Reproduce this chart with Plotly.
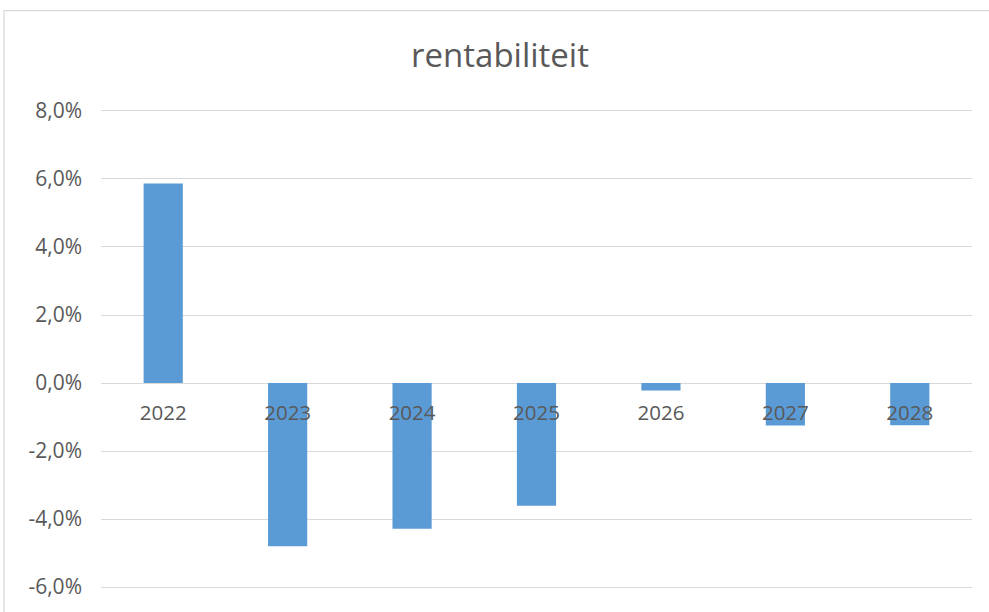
import plotly.graph_objects as go

years = ["2022", "2023", "2024", "2025", "2026", "2027", "2028"]
rentabiliteit = [0.0587, -0.0480, -0.0429, -0.0361, -0.0022, -0.0125, -0.0124]
y_ticks = [-0.06, -0.04, -0.02, 0.0, 0.02, 0.04, 0.06, 0.08]
y_tick_labels = ["-6,0%", "-4,0%", "-2,0%", "0,0%", "2,0%", "4,0%", "6,0%", "8,0%"]

W, H = 989, 612
PAD = 2  # extra pixels beyond the outer gridlines so they are drawn
y_lo, y_hi = -0.06, 0.08
per_px = (y_hi - y_lo) / (590 - 111)
L, R, T, B = 101, 17, 111 - PAD, 22 - PAD
pw, ph = W - L - R, H - T - B
rng = [y_lo - PAD * per_px, y_hi + PAD * per_px]

def px_x(x):
    return (x - L) / pw

def px_y(y):
    return (H - B - y) / ph

fig = go.Figure(go.Bar(
    x=years, y=rentabiliteit,
    marker=dict(color="#5B9BD5", line=dict(width=0)),
    width=0.315,
    hoverinfo="x+y",
))

fig.update_layout(
    width=W, height=H,
    margin=dict(l=L, r=R, t=T, b=B),
    paper_bgcolor="white", plot_bgcolor="white",
    showlegend=False,
    font=dict(family="Open Sans, Liberation Sans, sans-serif", color="#595959"),
    title=dict(text="rentabiliteit", x=px_x(500), xref="paper", xanchor="center",
               y=1 - 55 / H, yanchor="middle",
               font=dict(size=33, color="#595959")),
    xaxis=dict(anchor="free", position=(0 - rng[0]) / (rng[1] - rng[0]),
               showgrid=False, showline=False,
               ticks="", tickfont=dict(size=20.5, color="#595959"),
               ticklabelstandoff=15, range=[-0.5, 6.5]),
    yaxis=dict(range=rng, tickvals=y_ticks, ticktext=y_tick_labels,
               showgrid=True, gridcolor="#D9D9D9", gridwidth=1.3,
               zeroline=True, zerolinecolor="#D9D9D9", zerolinewidth=1.3,
               showline=False, ticks="", ticklabelstandoff=18,
               tickfont=dict(size=21, color="#595959")),
    shapes=[dict(type="rect", xref="paper", yref="paper",
                 x0=px_x(4), x1=px_x(1100), y0=px_y(700), y1=px_y(10),
                 line=dict(color="#D9D9D9", width=1.3), fillcolor="rgba(0,0,0,0)",
                 layer="below")],
)

fig.write_html("out.html", config={"displayModeBar": False},
               post_script="document.body.style.margin='0';")
